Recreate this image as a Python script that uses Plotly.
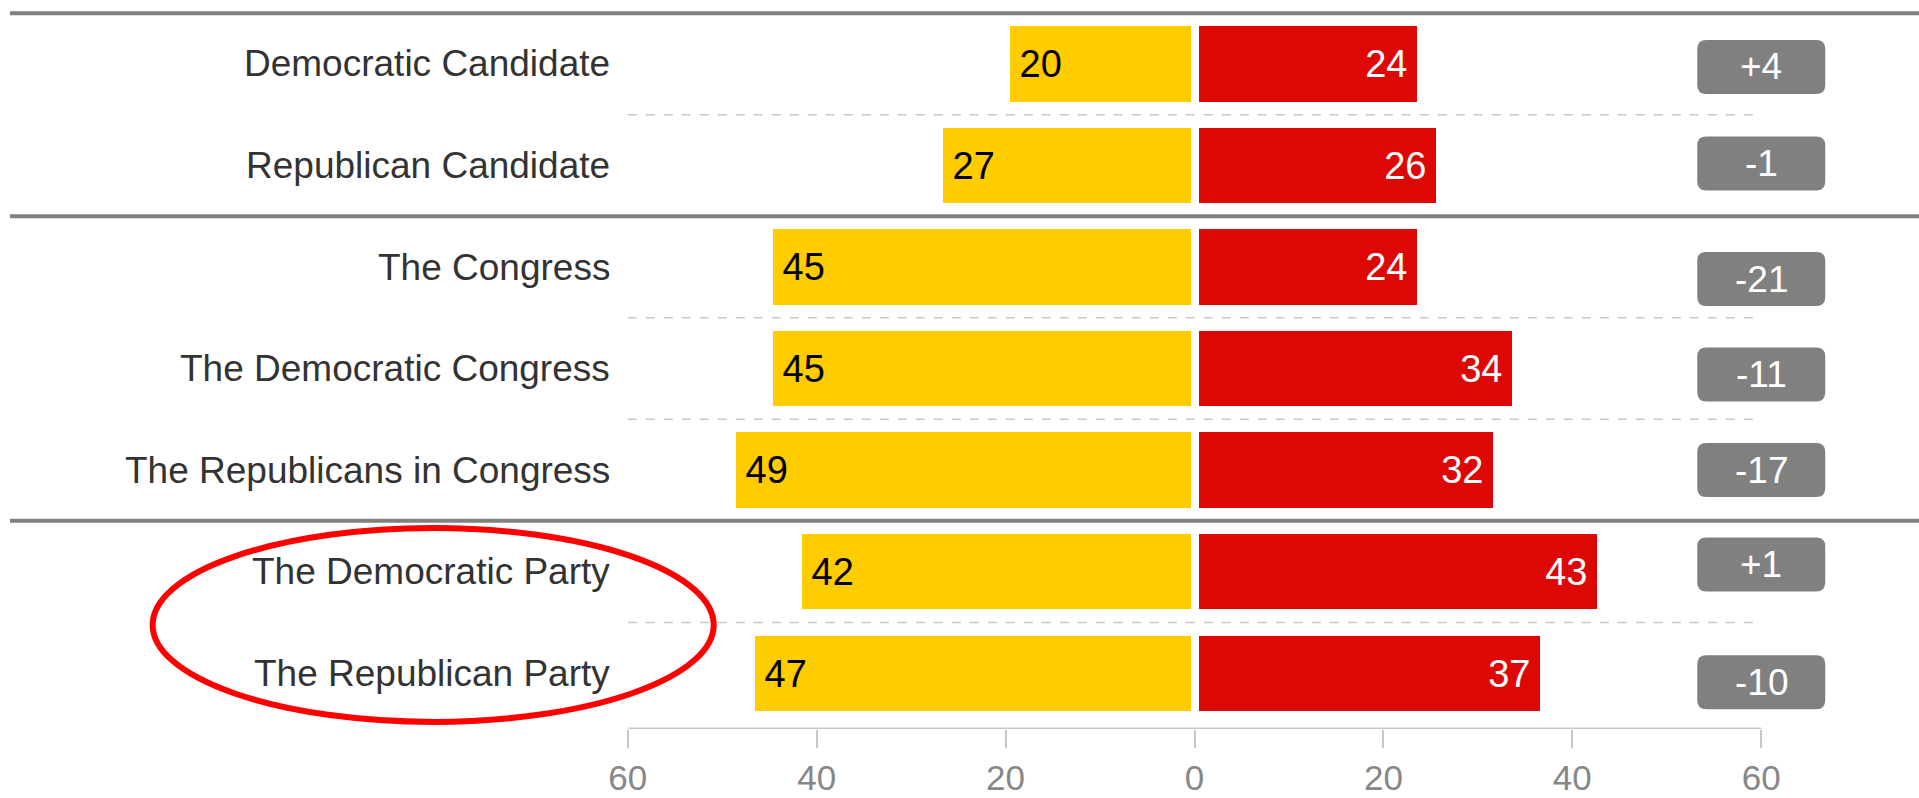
import plotly.graph_objects as go

categories = ["Democratic Candidate", "Republican Candidate", "The Congress",
              "The Democratic Congress", "The Republicans in Congress",
              "The Democratic Party", "The Republican Party"]
yellow_vals = [20, 27, 45, 45, 49, 42, 47]
red_vals = [24, 26, 24, 34, 32, 43, 37]
diff_vals = [r - y for r, y in zip(red_vals, yellow_vals)]
tick_vals = [-60, -40, -20, 0, 20, 40, 60]
tick_text = ["60", "40", "20", "0", "20", "40", "60"]

box_nudge_px = [3, -2, 12, 6, 0, -7, 9]

FONT = "Liberation Sans, Arial, sans-serif"
YELLOW = "#FFCC00"
RED = "#DD0806"
GRAY = "#808080"
NB = "\u00a0"

fig = go.Figure()
fig.add_trace(go.Bar(
    y=categories, x=[-v for v in yellow_vals], orientation="h",
    marker=dict(color=YELLOW, line=dict(color="white", width=8)),
    width=0.82,
    text=[NB + str(v) for v in yellow_vals],
    textposition="inside", insidetextanchor="end", constraintext="none",
    textangle=0,
    insidetextfont=dict(family=FONT, size=38, color="black"),
    hoverinfo="skip",
))
fig.add_trace(go.Bar(
    y=categories, x=red_vals, orientation="h",
    marker=dict(color=RED, line=dict(color="white", width=8)),
    width=0.82,
    text=[str(v) + NB for v in red_vals],
    textposition="inside", insidetextanchor="end", constraintext="none",
    textangle=0,
    insidetextfont=dict(family=FONT, size=38, color="white"),
    hoverinfo="skip",
))

XMIN, XMAX = -125.4, 76.7
shapes = []
for yv in [-0.5, 1.5, 4.5]:
    shapes.append(dict(type="line", xref="x", yref="y", x0=XMIN, x1=XMAX, y0=yv, y1=yv,
                       line=dict(color=GRAY, width=4), layer="above"))
for yv in [0.5, 2.5, 3.5, 5.5]:
    shapes.append(dict(type="line", xref="x", yref="y", x0=-60, x1=60, y0=yv, y1=yv,
                       line=dict(color="#C8C8C8", width=1.5, dash="dash"), layer="below"))
shapes.append(dict(type="line", xref="x", yref="y", x0=-60, x1=60, y0=6.55, y1=6.55,
                   line=dict(color="#C8C8C8", width=3)))

hw, hh, r = 64, 27, 9
annotations = []
for i, (cat, d) in enumerate(zip(categories, diff_vals)):
    n = box_nudge_px[i]
    p = (f"M {-hw+r},{-hh-n} L {hw-r},{-hh-n} Q {hw},{-hh-n} {hw},{-hh+r-n} "
         f"L {hw},{hh-r-n} Q {hw},{hh-n} {hw-r},{hh-n} L {-hw+r},{hh-n} "
         f"Q {-hw},{hh-n} {-hw},{hh-r-n} L {-hw},{-hh+r-n} "
         f"Q {-hw},{-hh-n} {-hw+r},{-hh-n} Z")
    shapes.append(dict(type="path", xref="x", yref="y", xsizemode="pixel", ysizemode="pixel",
                       xanchor=60, yanchor=i, path=p,
                       fillcolor=GRAY, line=dict(width=0), layer="above"))
    annotations.append(dict(x=60, y=i, xref="x", yref="y", text=f"{d:+d}", showarrow=False,
                            yshift=-n, xanchor="center", yanchor="middle",
                            font=dict(family=FONT, size=37, color="white")))
    annotations.append(dict(x=-61.7, y=i, xref="x", yref="y", text=cat, showarrow=False,
                            xanchor="right", yanchor="middle",
                            font=dict(family=FONT, size=37, color="#333333")))

shapes.append(dict(type="circle", xref="x", yref="y", x0=-110.3, x1=-50.9, y0=4.57, y1=6.48,
                   line=dict(color="#FF0000", width=6), layer="above"))

fig.update_layout(
    width=1919, height=798, autosize=False,
    margin=dict(l=10, r=0, t=3, b=69, pad=0),
    paper_bgcolor="white", plot_bgcolor="white",
    barmode="relative", bargap=0,
    showlegend=False,
    shapes=shapes, annotations=annotations,
    xaxis=dict(range=[XMIN, XMAX], tickvals=tick_vals, ticktext=tick_text,
               showgrid=False, zeroline=False, showline=False, automargin=False,
               ticks="outside", ticklen=18, tickwidth=2, tickcolor="#C8C8C8",
               ticklabelstandoff=0,
               tickfont=dict(family=FONT, size=35, color="#878787")),
    yaxis=dict(categoryorder="array", categoryarray=categories, range=[6.55, -0.6],
               showticklabels=False, showgrid=False, zeroline=False, showline=False,
               automargin=False, ticks=""),
)

fig.write_html("out.html", config={"displayModeBar": False},
               post_script="document.body.style.margin='0';document.body.style.overflow='hidden';")
